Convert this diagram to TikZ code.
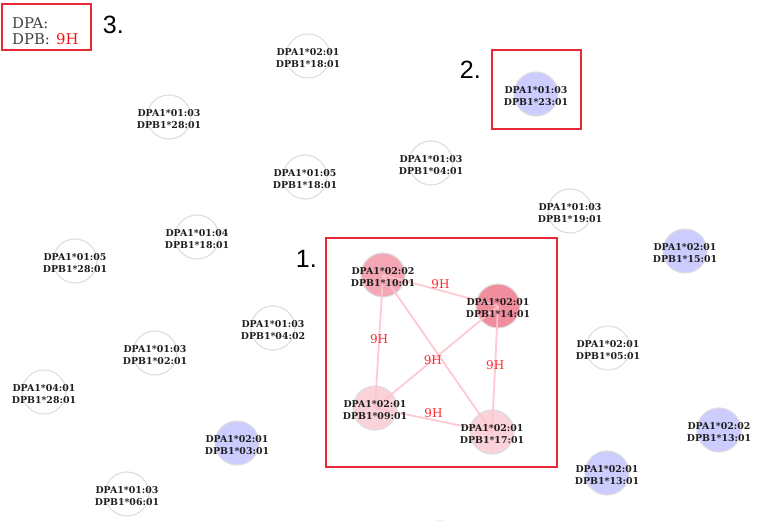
\documentclass[tikz,border=0pt]{standalone}
\usepackage{fontspec}
\setmainfont{DejaVu Serif}
\newfontfamily\hlafont{DejaVu Serif}
\newfontfamily\numfont{Liberation Sans}
\definecolor{ringgray}{RGB}{221,221,221}
\definecolor{lav}{RGB}{204,204,255}
\definecolor{pinkA}{RGB}{245,166,180}
\definecolor{pinkB}{RGB}{241,142,158}
\definecolor{pinkC}{RGB}{250,210,218}
\definecolor{edgepink}{RGB}{255,196,204}
\definecolor{boxred}{RGB}{232,40,52}
\definecolor{txtgray}{RGB}{30,30,30}
\definecolor{lblred}{RGB}{250,20,25}
\tikzset{
  ring/.style={circle, minimum size=44pt, inner sep=0pt, draw=ringgray, line width=1.1pt},
  wnode/.style={ring, fill=white},
  lnode/.style={ring, fill=lav},
  anode/.style={ring, fill=pinkA},
  bnode/.style={ring, fill=pinkB},
  cnode/.style={ring, fill=pinkC},
  hlatext/.style={font=\hlafont\bfseries\fontsize{9.4}{12}\selectfont, align=center, text=txtgray, inner sep=0pt, yshift=-2pt},
  link/.style={draw=edgepink, line width=1.8pt, opacity=0.9},
  elabel/.style={font=\fontsize{12}{14}\selectfont, text=lblred, inner sep=0pt},
  redbox/.style={draw=boxred, line width=1.6pt},
  numlabel/.style={font=\numfont\fontsize{25}{28}\selectfont, text=black, inner sep=0pt, anchor=east},
  legend/.style={font=\fontsize{14.8}{17}\selectfont, text=txtgray!85, inner sep=0pt, anchor=base west}
}
\newcommand{\hlanode}[6]{%
  \node[#4] (#1) at (#2,#3) {};
  \node[hlatext] (#1-t) at (#2,#3) {#5\\#6};
}
\begin{document}
\begin{tikzpicture}[x=1pt,y=-1pt]
\useasboundingbox (0,0) rectangle (771,521);
\fill[white] (0,0) rectangle (771,521);

% white nodes
\hlanode{w1}{308}{56}{wnode}{DPA1*02:01}{DPB1*18:01}
\hlanode{w2}{169}{117}{wnode}{DPA1*01:03}{DPB1*28:01}
\hlanode{w3}{305}{177}{wnode}{DPA1*01:05}{DPB1*18:01}
\hlanode{w4}{431}{163}{wnode}{DPA1*01:03}{DPB1*04:01}
\hlanode{w5}{570}{211}{wnode}{DPA1*01:03}{DPB1*19:01}
\hlanode{w6}{197}{237}{wnode}{DPA1*01:04}{DPB1*18:01}
\hlanode{w7}{75}{261}{wnode}{DPA1*01:05}{DPB1*28:01}
\hlanode{w8}{273}{328}{wnode}{DPA1*01:03}{DPB1*04:02}
\hlanode{w9}{155}{353}{wnode}{DPA1*01:03}{DPB1*02:01}
\hlanode{w10}{44}{392}{wnode}{DPA1*04:01}{DPB1*28:01}
\hlanode{w11}{127}{494}{wnode}{DPA1*01:03}{DPB1*06:01}
\hlanode{w12}{608}{348}{wnode}{DPA1*02:01}{DPB1*05:01}

% lavender nodes
\hlanode{l1}{536}{94}{lnode}{DPA1*01:03}{DPB1*23:01}
\hlanode{l2}{685}{251}{lnode}{DPA1*02:01}{DPB1*15:01}
\hlanode{l3}{237}{443}{lnode}{DPA1*02:01}{DPB1*03:01}
\hlanode{l4}{719}{430}{lnode}{DPA1*02:02}{DPB1*13:01}
\hlanode{l5}{607}{473}{lnode}{DPA1*02:01}{DPB1*13:01}
\node[lnode] (l6) at (440,543) {};

% pink cluster
\node[anode] (A) at (383,275) {};
\node[bnode] (B) at (498,306) {};
\node[cnode] (C) at (375,408) {};
\node[cnode] (D) at (492,432) {};

\draw[link] (A.center) -- node[elabel, above=1pt] {9H} (B.center);
\draw[link] (A.center) -- node[elabel, pos=0.48] {9H} (C.center);
\draw[link] (A.center) -- (D.center);
\draw[link] (B.center) -- node[elabel, pos=0.53] {9H} (C.center);
\draw[link] (B.center) -- node[elabel, pos=0.47] {9H} (D.center);
\draw[link] (C.center) -- node[elabel, above=1pt, pos=0.5] {9H} (D.center);

\node[hlatext] (A-t) at (A) {DPA1*02:02\\DPB1*10:01};
\node[hlatext] (B-t) at (B) {DPA1*02:01\\DPB1*14:01};
\node[hlatext] (C-t) at (C) {DPA1*02:01\\DPB1*09:01};
\node[hlatext] (D-t) at (D) {DPA1*02:01\\DPB1*17:01};

% highlight boxes
\node[redbox, inner sep=0pt, minimum width=231pt, minimum height=229pt] (box1) at (441.5,352.5) {};
\node[redbox, inner sep=0pt, minimum width=89pt, minimum height=79pt] (box2) at (536.5,89.5) {};
\node[redbox, inner sep=0pt, minimum width=89pt, minimum height=46pt] (box3) at (46.5,27) {};

\node[numlabel] (n1) at (317,259) {1.};
\node[numlabel] (n2) at (481,70) {2.};
\node[numlabel] (n3) at (124,25) {3.};

% legend
\node[legend] (lgA) at (12,29) {DPA:};
\node[legend] (lgB) at (12,45) {DPB:};
\node[legend, text=lblred] (lg9) at (56,45) {9H};
\end{tikzpicture}
\end{document}
